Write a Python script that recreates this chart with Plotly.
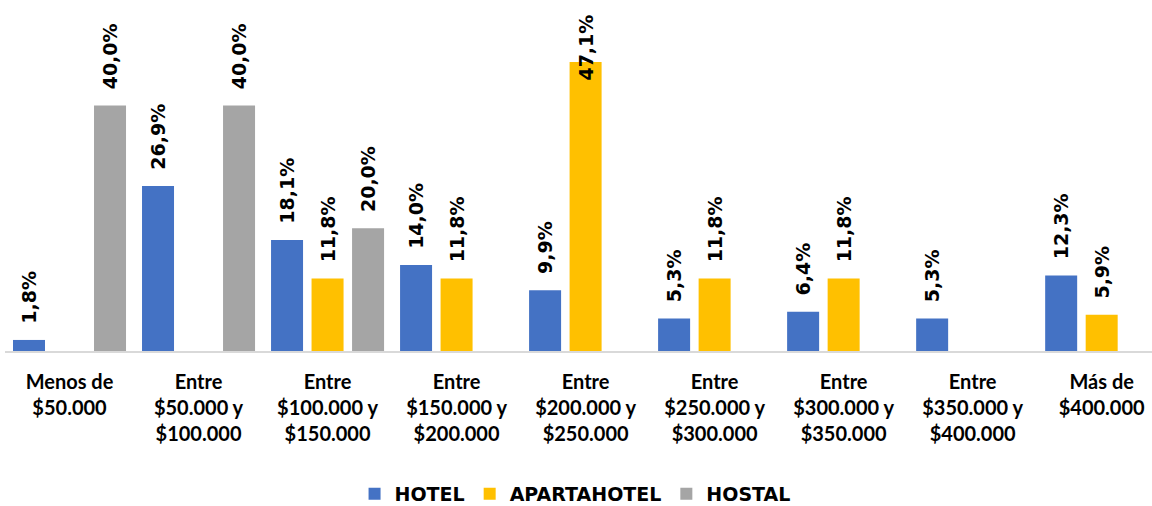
import plotly.graph_objects as go

categories = [
    "Menos de<br>$50.000",
    "Entre<br>$50.000 y<br>$100.000",
    "Entre<br>$100.000 y<br>$150.000",
    "Entre<br>$150.000 y<br>$200.000",
    "Entre<br>$200.000 y<br>$250.000",
    "Entre<br>$250.000 y<br>$300.000",
    "Entre<br>$300.000 y<br>$350.000",
    "Entre<br>$350.000 y<br>$400.000",
    "Más de<br>$400.000",
]
hotel = [1.8, 26.9, 18.1, 14.0, 9.9, 5.3, 6.4, 5.3, 12.3]
apartahotel = [None, None, 11.8, 11.8, 47.1, 11.8, 11.8, None, 5.9]
hostal = [40.0, 40.0, 20.0, None, None, None, None, None, None]

series = [
    ("HOTEL", hotel, "#4472C4"),
    ("APARTAHOTEL", apartahotel, "#FFC000"),
    ("HOSTAL", hostal, "#A5A5A5"),
]

LBL_FONT = "DejaVu Sans"
CAT_FONT = "Lato"
YMAX = 57.2
TALL = 45  # labels of bars taller than this overlap the bar top (as in the original)


def fmt(v):
    return f"{v:.1f}".replace(".", ",") + "%"


fig = go.Figure()
for name, vals, color in series:
    texts = []
    for v in vals:
        if v is None or v > TALL:
            texts.append("")
        else:
            texts.append("\u00a0\u00a0" + fmt(v))
    fig.add_trace(go.Bar(
        name=name,
        x=categories,
        y=vals,
        marker=dict(color=color, line=dict(width=0)),
        text=texts,
        textposition="outside",
        textangle=-90,
        constraintext="none",
        textfont=dict(family=LBL_FONT, size=19, color="black", weight="bold"),
        cliponaxis=False,
    ))
    for c, v in zip(categories, vals):
        if v is not None and v > TALL:
            fig.add_annotation(
                x=c, y=v, text=fmt(v), showarrow=False,
                textangle=-90, yanchor="middle", xanchor="center",
                yshift=14,
                font=dict(family=LBL_FONT, size=19, color="black", weight="bold"),
            )

fig.update_layout(
    width=1152,
    height=506,
    margin=dict(l=5, r=0, t=0, b=155, autoexpand=False),
    barmode="group",
    bargap=0.058,
    bargroupgap=0.21,
    plot_bgcolor="white",
    paper_bgcolor="white",
    font=dict(family=LBL_FONT, color="black"),
    showlegend=True,
    legend=dict(
        orientation="h",
        x=0.497, xanchor="center",
        y=-0.407, yanchor="middle",
        font=dict(family=LBL_FONT, size=19, color="black", weight="bold"),
        itemwidth=30,
    ),
)
fig.update_xaxes(
    range=[-0.5, 8.39],
    automargin=False,
    showline=True, linecolor="#D9D9D9", linewidth=2,
    showgrid=False, ticks="",
    tickfont=dict(family=CAT_FONT, size=20, color="black", weight="bold"),
    ticklabelstandoff=12,
)
fig.update_yaxes(
    range=[0, YMAX],
    visible=False,
    showgrid=False,
)

fig.write_html(
    "out.html",
    config={"displayModeBar": False},
    post_script="document.body.style.margin='0';document.body.style.overflow='hidden';",
)
